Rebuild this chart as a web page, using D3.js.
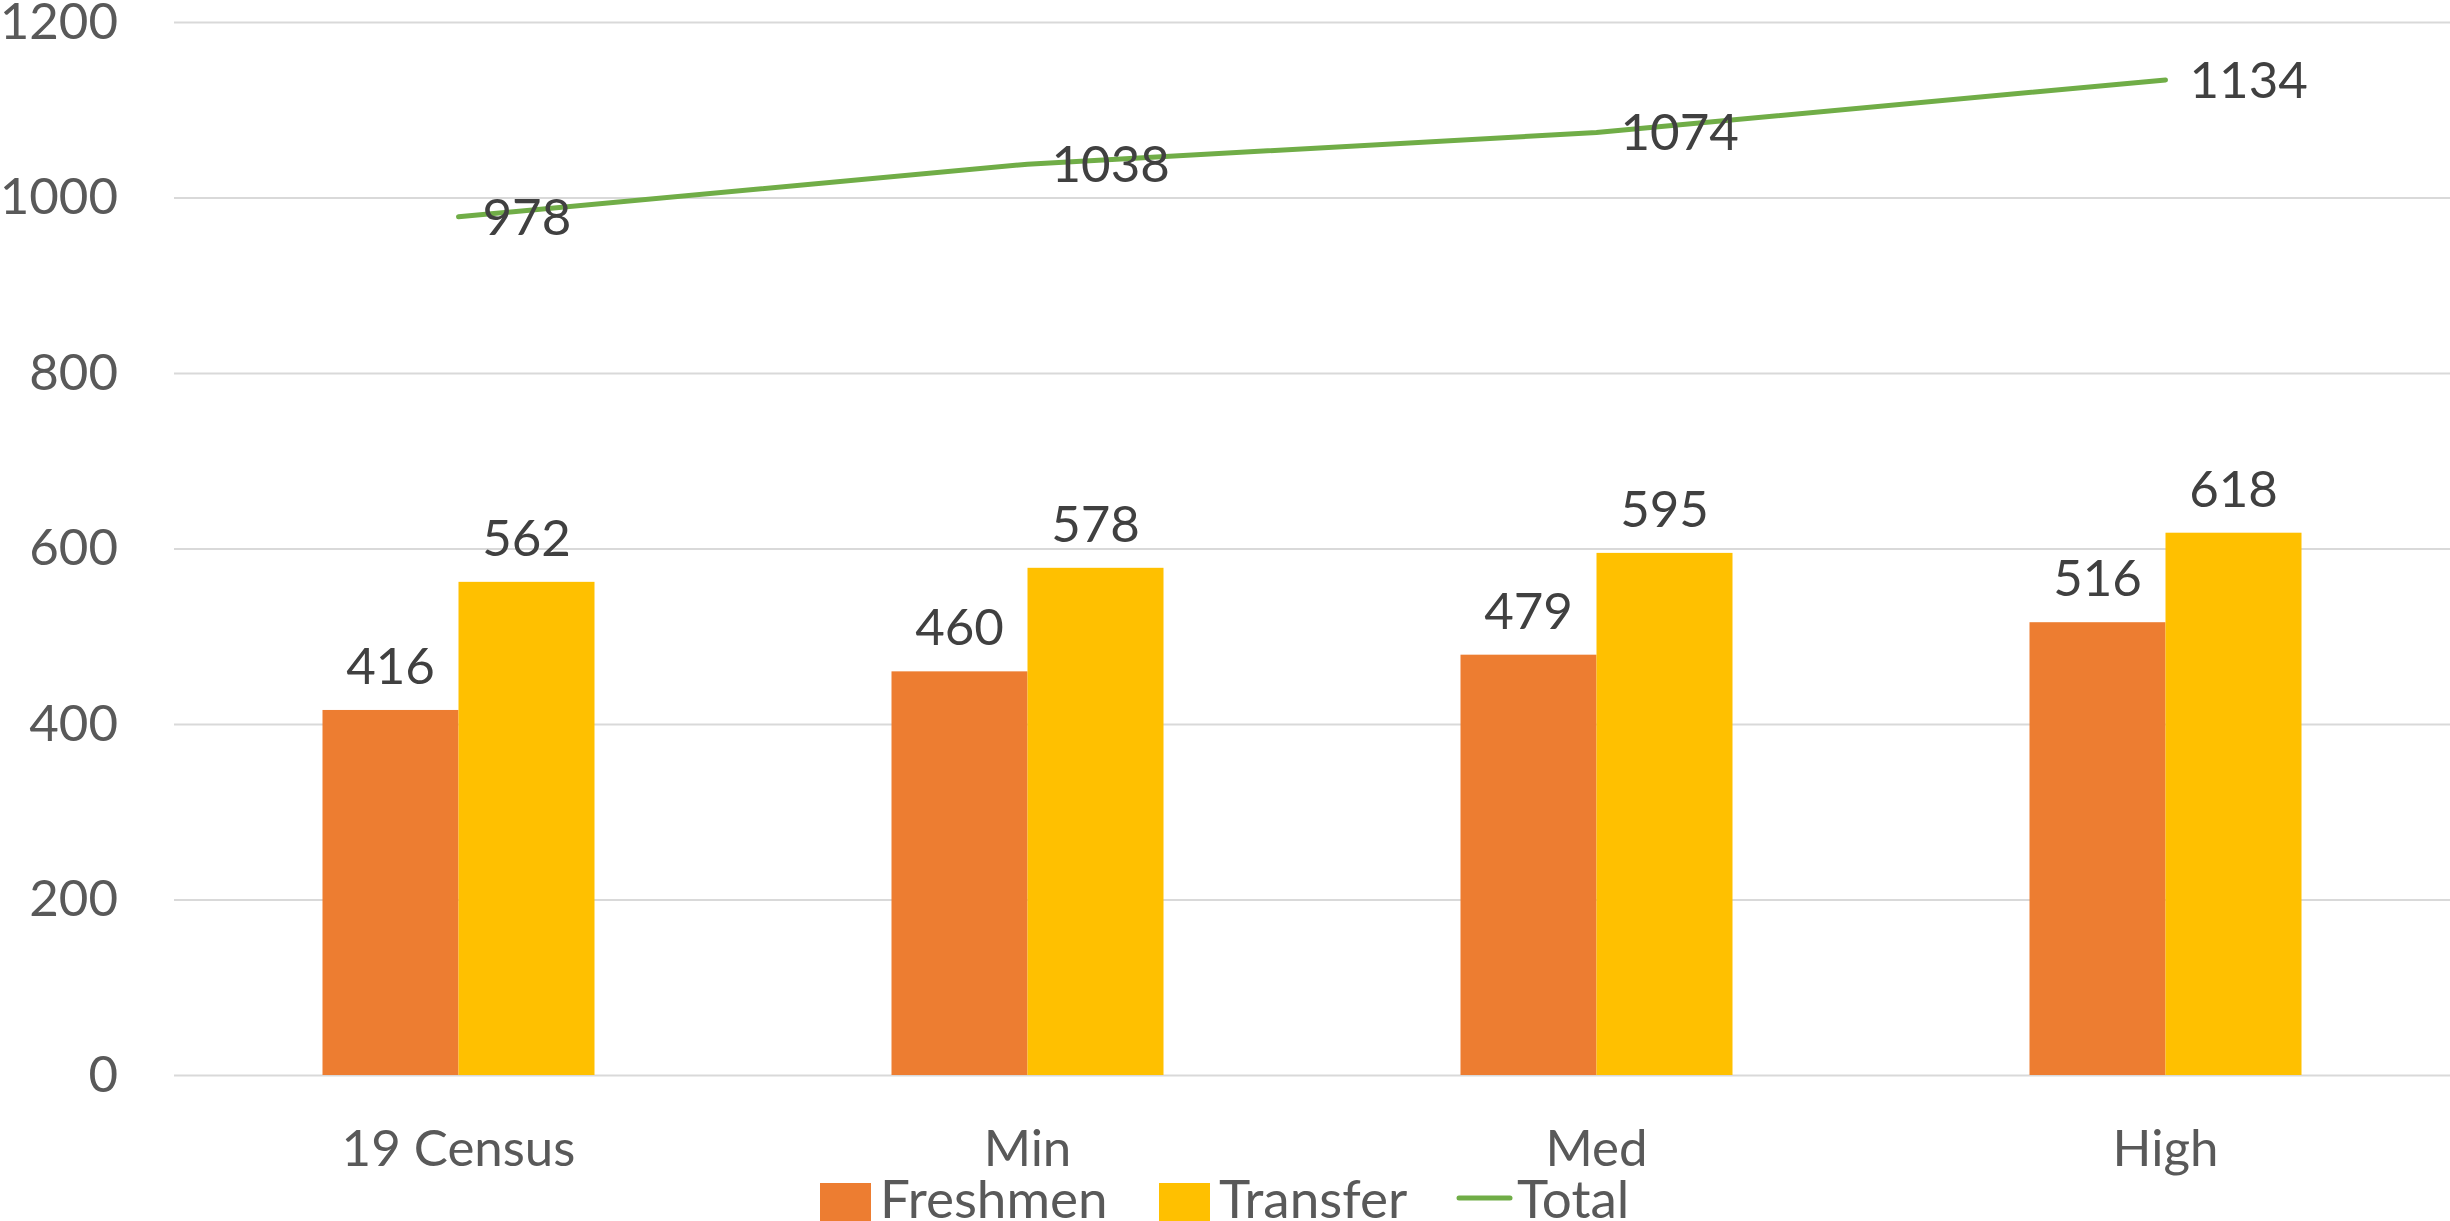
<!DOCTYPE html>
<html>
<head>
<meta charset="utf-8">
<script src="https://cdn.jsdelivr.net/npm/d3@7"></script>
<style>
  body { margin: 0; background: #fff; }
  svg { display: block; font-family: Lato, "Noto Sans", sans-serif; }
</style>
</head>
<body>
<svg width="2450" height="1221"></svg>
<script>
const categories = ["19 Census", "Min", "Med", "High"];
const freshmen = [416, 460, 479, 516];
const transfer = [562, 578, 595, 618];
const total = [978, 1038, 1074, 1134];
const yTicks = [0, 200, 400, 600, 800, 1000, 1200];

const svg = d3.select("svg");
const plotLeft = 174, plotRight = 2450, plotTop = 22, plotBottom = 1075;
const fontSize = 51;

const x = d3.scaleBand().domain(categories).range([plotLeft, plotRight]);
const y = d3.scaleLinear().domain([0, 1200]).range([plotBottom, plotTop]);
const barW = 136;
const xs = d3.scaleBand().domain(["Freshmen", "Transfer"]).range([-barW, barW]);

// gridlines + y tick labels
const yAxis = svg.append("g")
  .attr("transform", `translate(${plotLeft},0)`)
  .call(d3.axisLeft(y).tickValues(yTicks).tickFormat(d3.format("d"))
    .tickSize(-(plotRight - plotLeft)).tickPadding(plotLeft - 118));
yAxis.select(".domain").remove();
yAxis.selectAll(".tick line").attr("stroke", "#d9d9d9").attr("stroke-width", 2);
yAxis.selectAll(".tick text")
  .attr("fill", "#595959")
  .attr("font-size", fontSize)
  .attr("font-family", "Lato, sans-serif");

// bars
const rows = categories.map((c, i) => ({ c, Freshmen: freshmen[i], Transfer: transfer[i] }));
const colors = { Freshmen: "#ed7d31", Transfer: "#ffc000" };

const groups = svg.append("g").selectAll("g")
  .data(rows)
  .join("g")
  .attr("transform", d => `translate(${x(d.c) + x.bandwidth() / 2},0)`);

groups.selectAll("rect")
  .data(d => ["Freshmen", "Transfer"].map(k => ({ k, v: d[k] })))
  .join("rect")
  .attr("x", d => xs(d.k))
  .attr("width", xs.bandwidth())
  .attr("y", d => y(d.v))
  .attr("height", d => y(0) - y(d.v))
  .attr("fill", d => colors[d.k]);

groups.selectAll("text")
  .data(d => ["Freshmen", "Transfer"].map(k => ({ k, v: d[k] })))
  .join("text")
  .attr("x", d => xs(d.k) + xs.bandwidth() / 2)
  .attr("y", d => y(d.v) - 26)
  .attr("text-anchor", "middle")
  .attr("font-size", fontSize)
  .attr("fill", "#404040")
  .text(d => d.v);

// total line
const cx = c => x(c) + x.bandwidth() / 2;
const line = d3.line().x((d, i) => cx(categories[i])).y(d => y(d));
svg.append("path")
  .datum(total)
  .attr("d", line)
  .attr("fill", "none")
  .attr("stroke", "#70ad47")
  .attr("stroke-width", 5)
  .attr("stroke-linecap", "round")
  .attr("stroke-linejoin", "round");

svg.append("g").selectAll("text")
  .data(total)
  .join("text")
  .attr("x", (d, i) => cx(categories[i]) + 24)
  .attr("y", d => y(d))
  .attr("dy", "0.35em")
  .attr("font-size", fontSize)
  .attr("fill", "#404040")
  .text(d => d);

// category labels
svg.append("g").selectAll("text")
  .data(categories)
  .join("text")
  .attr("x", d => cx(d))
  .attr("y", 1166)
  .attr("text-anchor", "middle")
  .attr("font-size", fontSize)
  .attr("fill", "#595959")
  .text(d => d);

// legend
const legend = svg.append("g");
const items = [
  { name: "Freshmen", type: "rect", color: "#ed7d31", x: 820 },
  { name: "Transfer", type: "rect", color: "#ffc000", x: 1159 },
  { name: "Total", type: "line", color: "#70ad47", x: 1457 }
];
items.forEach(it => {
  if (it.type === "rect") {
    legend.append("rect").attr("x", it.x).attr("y", 1183).attr("width", 51).attr("height", 51).attr("fill", it.color);
  } else {
    legend.append("line").attr("x1", it.x + 2).attr("x2", it.x + 53).attr("y1", 1198).attr("y2", 1198)
      .attr("stroke", it.color).attr("stroke-width", 5).attr("stroke-linecap", "round");
  }
  legend.append("text")
    .attr("x", it.x + 60)
    .attr("y", 1218)
    .attr("font-size", fontSize + 2)
    .attr("fill", "#595959")
    .text(it.name);
});
</script>
</body>
</html>
